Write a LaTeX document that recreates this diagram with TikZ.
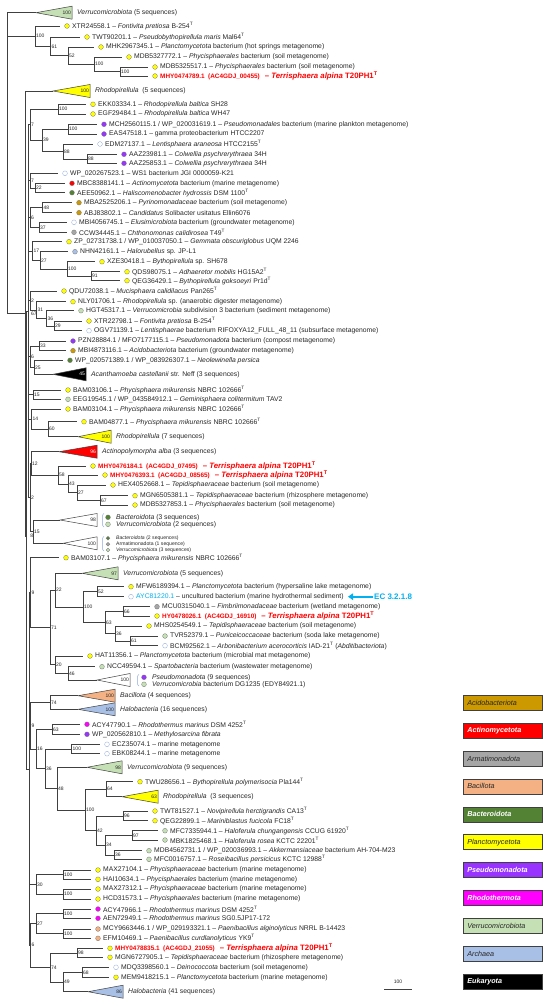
\documentclass[tikz,border=0pt]{standalone}
\usepackage{fontspec}
\setmainfont{Liberation Sans}
\usetikzlibrary{arrows.meta}

\definecolor{brc}{HTML}{404040}
\definecolor{txtc}{HTML}{262626}
\definecolor{plan}{HTML}{FFFF00}
\definecolor{pseu}{HTML}{9933FF}
\definecolor{rhod}{HTML}{FF00FF}
\definecolor{acti}{HTML}{FF0000}
\definecolor{bact}{HTML}{548235}
\definecolor{acid}{HTML}{CC9900}
\definecolor{arma}{HTML}{A6A6A6}
\definecolor{baci}{HTML}{F4B183}
\definecolor{verr}{HTML}{C5E0B4}
\definecolor{arch}{HTML}{A9C0E6}
\definecolor{euk}{HTML}{000000}
\definecolor{openc}{HTML}{8EA9DB}
\definecolor{tared}{HTML}{FF0000}
\definecolor{ecblue}{HTML}{00B0F0}

% Blatt: Elternknoten, Name, x, y, Punktstil, Text
\newcommand{\leaf}[6]{%
  \coordinate (#2) at (#3,#4);
  \draw[br] (#1) |- (#2);
  \node[dot,#5] (#2-dot) at (#3+7,#4) {};
  \node[lab] (#2-txt) at (#3+12,#4) {#6};}
% innerer Knoten: Elternknoten, Name, x, y, Bootstrap
\newcommand{\bnode}[5]{%
  \coordinate (#2) at (#3,#4);
  \draw[br] (#1) |- (#2);
  \node[bs] (#2-bs) at (#2) {#5};}
% zusammengefasste Klade: Elternknoten, Name, x, y, Laenge, Farbe, Bootstrap, Text
\newcommand{\clade}[8]{%
  \coordinate (#2) at (#3,#4);
  \draw[br] (#1) |- (#2);
  \draw[tri,fill=#6] (#2) -- ++(#5,-6.5) -- ++(0,13) -- cycle;
  \node[bsin] (#2-bs) at (#3+#5,#4) {#7};
  \node[lab] (#2-txt) at (#3+#5+5,#4) {#8};}
\newcommand{\supT}{\textsuperscript{T}}
\newcommand{\tal}[1]{\textcolor{tared}{\bfseries{\fontsize{6.4}{7}\selectfont #1}\hspace{5pt}{\fontsize{7.8}{9}\selectfont -- \textit{Terrisphaera alpina} T20PH1\textsuperscript{T}}}}

\begin{document}
\begin{tikzpicture}[x=1pt, y=-1pt,
  br/.style={draw=brc, line width=0.6pt},
  tri/.style={draw=brc, line width=0.5pt},
  brk/.style={draw=openc, line width=0.5pt, rounded corners=1pt},
  dot/.style={circle, draw=brc!70, line width=0.3pt, inner sep=0pt, minimum size=4.8pt},
  sdot/.style={dot, minimum size=3.8pt},
  dpl/.style={fill=plan}, dps/.style={fill=pseu}, drh/.style={fill=rhod},
  dac/.style={fill=acti}, dbc/.style={fill=bact}, dad/.style={fill=acid},
  dar/.style={fill=arma}, dbi/.style={fill=baci}, dve/.style={fill=verr},
  dah/.style={fill=arch}, dop/.style={fill=white, draw=openc},
  lab/.style={anchor=west, inner sep=0pt, text=txtc, font=\fontsize{6.8}{7.5}\selectfont},
  slab/.style={lab, font=\fontsize{5.1}{6}\selectfont},
  bs/.style={anchor=west, inner sep=0.8pt, text=txtc, font=\fontsize{5}{6}\selectfont},
  bsin/.style={bs, anchor=east},
  legbox/.style={anchor=west, draw=brc, line width=0.6pt, minimum width=79pt,
    minimum height=15pt, text width=71pt, inner xsep=4pt, align=left},
  legd/.style={text=txtc, font=\fontsize{7.2}{8}\selectfont\itshape},
  legw/.style={text=white, font=\fontsize{7.2}{8}\selectfont\bfseries\itshape},
  ectxt/.style={anchor=west, inner sep=1pt, text=ecblue, font=\fontsize{8}{9}\selectfont\bfseries},
  ecarr/.style={draw=ecblue, line width=2pt, -{Triangle[length=5pt,width=6.5pt]}}]
\useasboundingbox (0,0) rectangle (550,1006);

% Wurzel und oberste Klade
\coordinate (r) at (7.3,163);
\clade{r}{vA}{36}{12.7}{36}{verr}{100}{\textit{Verrucomicrobiota} (5 sequences)}
\bnode{r}{a1}{35}{36.2}{100}
\leaf{a1}{xtr1}{60}{26}{dpl}{XTR24558.1 -- \textit{Fontivita pretiosa} B-254\supT}
\bnode{a1}{a2}{50.7}{46.3}{61}
\leaf{a2}{twt1}{80}{37}{dpl}{TWT90201.1 -- \textit{Pseudobythopirellula maris} Mal64\supT}
\bnode{a2}{a3}{68}{55.6}{52}
\leaf{a3}{mhk}{94}{47}{dpl}{MHK2967345.1 -- \textit{Planctomycetota} bacterium (hot springs metagenome)}
\bnode{a3}{a4}{94}{64.2}{100}
\leaf{a4}{mdb1}{122}{57}{dpl}{MDB5327772.1 -- \textit{Phycisphaerales} bacterium (soil metagenome)}
\bnode{a4}{a5}{120}{71.5}{100}
\leaf{a5}{mdb2}{148}{67}{dpl}{MDB5325517.1 -- \textit{Phycisphaerales} bacterium (soil metagenome)}
\leaf{a5}{mhy1}{148}{76}{dpl}{\tal{MHY0474789.1\ \ (AC4GDJ\_00455)}}

% Hauptast
\bnode{r}{b}{25}{313.5}{}
\node[bs] (b-lab) at (30,313.5) {67};
\clade{b}{rh5}{53}{91}{37}{plan}{100}{\textit{Rhodopirellula}\ \ (5 sequences)}
\bnode{b}{c}{26.7}{536}{}
\node[bs] (c-lab) at (29.3,536) {8};
\bnode{c}{u}{28}{311}{}
\bnode{c}{lw}{29.3}{769}{}

% oberer Teil
\bnode{u}{e1}{30}{124.7}{7}
\bnode{e1}{e2}{58}{109.2}{100}
\leaf{e2}{ekk}{86}{104.3}{dpl}{EKK03334.1 -- \textit{Rhodopirellula baltica} SH28}
\leaf{e2}{egf}{86}{114}{dpl}{EGF29484.1 -- \textit{Rhodopirellula baltica} WH47}
\bnode{e1}{e3}{42}{140.2}{39}
\bnode{e3}{e4}{68}{129}{100}
\leaf{e4}{mch}{97}{124.3}{dps}{MCH2560115.1 / WP\_020031619.1 -- \textit{Pseudomonadales} bacterium (marine plankton metagenome)}
\leaf{e4}{eas}{97}{134}{dps}{EAS47518.1 -- gamma proteobacterium HTCC2207}
\bnode{e3}{e5}{63}{151.4}{88}
\leaf{e5}{edm}{93}{144}{dop}{EDM27137.1 -- \textit{Lentisphaera araneosa} HTCC2155\supT}
\bnode{e5}{e6}{87}{158.8}{88}
\leaf{e6}{aaz1}{117}{154.3}{dps}{AAZ23981.1 -- \textit{Colwellia psychrerythraea} 34H}
\leaf{e6}{aaz2}{117}{163.3}{dps}{AAZ25853.1 -- \textit{Colwellia psychrerythraea} 34H}

\bnode{u}{f1}{30}{180.7}{7}
\leaf{f1}{ws1}{58}{173.3}{dop}{WP\_020267523.1 -- WS1 bacterium JGI 0000059-K21}
\bnode{f1}{f2}{35}{188}{22}
\leaf{f2}{mbc}{65}{183.3}{dac}{MBC8388141.1 -- \textit{Actinomycetota} bacterium (marine metagenome)}
\leaf{f2}{aee}{65}{192.7}{dbc}{AEE50962.1 -- \textit{Haliscomenobacter hydrossis} DSM 1100\supT}

\bnode{u}{g1}{30}{217.5}{6}
\bnode{g1}{g2}{42.7}{207.7}{48}
\leaf{g2}{mba}{72}{202.7}{dad}{MBA2525206.1 -- \textit{Pyrinomonadaceae} bacterium (soil metagenome)}
\leaf{g2}{abj}{72}{212.7}{dad}{ABJ83802.1 -- \textit{Candidatus} Solibacter usitatus Ellin6076}
\bnode{g1}{g3}{39}{227.3}{37}
\leaf{g3}{mbi1}{67}{222.3}{dop}{MBI4056745.1 -- \textit{Elusimicrobiota} bacterium (groundwater metagenome)}
\leaf{g3}{ccw}{67}{232.3}{dar}{CCW34445.1 -- \textit{Chthonomonas calidirosea} T49\supT}

\bnode{u}{h1}{32.7}{251}{17}
\leaf{h1}{zp}{62}{241.7}{dpl}{ZP\_02731738.1 / WP\_010037050.1 -- \textit{Gemmata obscuriglobus} UQM 2246}
\bnode{h1}{h2}{40}{260.3}{27}
\leaf{h2}{nhn}{68}{251.7}{dah}{NHN42161.1 -- \textit{Halorubellus} sp. JP-L1}
\bnode{h2}{h3}{67}{269}{100}
\leaf{h3}{xze}{95}{261.7}{dpl}{XZE30418.1 -- \textit{Bythopirellula} sp. SH678}
\bnode{h3}{h4}{91}{276.2}{91}
\leaf{h4}{qds}{120}{271.7}{dpl}{QDS98075.1 -- \textit{Adhaeretor mobilis} HG15A2\supT}
\leaf{h4}{qeg1}{120}{280.7}{dpl}{QEG36429.1 -- \textit{Bythopirellula goksoeyri} Pr1d\supT}

\bnode{u}{k1}{30}{300.5}{2}
\leaf{k1}{qdu}{57}{291}{dpl}{QDU72038.1 -- \textit{Mucisphaera calidilacus} Pan265\supT}
\bnode{k1}{k2}{36.7}{310}{31}
\leaf{k2}{nly}{66}{301.7}{dpl}{NLY01706.1 -- \textit{Rhodopirellula} sp. (anaerobic digester metagenome)}
\bnode{k2}{k3}{46.7}{318.3}{36}
\leaf{k3}{hgt}{74}{310.7}{dve}{HGT45317.1 -- \textit{Verrucomicrobia} subdivision 3 bacterium (sediment metagenome)}
\bnode{k3}{k4}{54}{325.8}{29}
\leaf{k4}{xtr2}{82}{321}{dpl}{XTR22798.1 -- \textit{Fontivita pretiosa} B-254\supT}
\leaf{k4}{ogv}{82}{330.7}{dop}{OGV71139.1 -- \textit{Lentisphaerae} bacterium RIFOXYA12\_FULL\_48\_11 (subsurface metagenome)}

\bnode{u}{m1}{30}{356.5}{6}
\bnode{m1}{m2}{39}{345.8}{33}
\leaf{m2}{pzn}{66}{341}{dps}{PZN28884.1 / MFO7177115.1 -- \textit{Pseudomonadota} bacterium (compost metagenome)}
\leaf{m2}{mbi2}{66}{350.7}{dad}{MBI4873116.1 -- \textit{Acidobacteriota} bacterium (groundwater metagenome)}
\bnode{m1}{m3}{34}{367.3}{25}
\leaf{m3}{wpn}{63}{360.3}{dbc}{WP\_020571389.1 / WP\_083926307.1 -- \textit{Neolewinella persica}}
\clade{m3}{acan}{53}{374.3}{33}{euk}{\color{white}45}{\textit{Acanthamoeba castellanii} str. Neff (3 sequences)}

\bnode{u}{p1}{33}{394.7}{15}
\leaf{p1}{bam1}{61}{390}{dpl}{BAM03106.1 -- \textit{Phycisphaera mikurensis} NBRC 102666\supT}
\leaf{p1}{eeg}{61}{399.3}{dve}{EEG19545.1 / WP\_043584912.1 -- \textit{Geminisphaera colitermitum} TAV2}

\bnode{u}{q1}{31.7}{419}{14}
\leaf{q1}{bam2}{61}{409}{dpl}{BAM03104.1 -- \textit{Phycisphaera mikurensis} NBRC 102666\supT}
\bnode{q1}{q2}{48}{429.2}{60}
\leaf{q2}{bam3}{77}{421.7}{dpl}{BAM04877.1 -- \textit{Phycisphaera mikurensis} NBRC 102666\supT}
\clade{q2}{rh7}{78}{436.7}{33}{plan}{100}{\textit{Rhodopirellula} (7 sequences)}

\bnode{u}{s1}{30}{497.5}{2}
\bnode{s1}{s2}{31}{463.3}{12}
\clade{s2}{actp}{59}{451.7}{38}{acti}{\color{white}96}{\textit{Actinopolymorpha alba} (3 sequences)}
\bnode{s2}{s3}{58}{474.9}{58}
\leaf{s3}{mhy2}{86}{466}{dpl}{\tal{MHY0476184.1\ \ (AC4GDJ\_07495)}}
\bnode{s3}{s4}{68}{483.8}{43}
\leaf{s4}{mhy3}{98}{475}{dpl}{\tal{MHY0476393.1\ \ (AC4GDJ\_08565)}}
\bnode{s4}{s5}{77}{492.7}{27}
\leaf{s5}{hex}{106}{485}{dpl}{HEX4052668.1 -- \textit{Tepidisphaeraceae} bacterium (soil metagenome)}
\bnode{s5}{s6}{100}{500.3}{67}
\leaf{s6}{mgn1}{128}{495.7}{dpl}{MGN6505381.1 -- \textit{Tepidisphaeraceae} bacterium (rhizosphere metagenome)}
\leaf{s6}{mdb3}{128}{505}{dpl}{MDB5327853.1 -- \textit{Phycisphaerales} bacterium (soil metagenome)}
\bnode{s1}{t1}{33}{531.7}{15}
\clade{t1}{wt1}{60}{520}{37}{white}{98}{}
\clade{t1}{wt2}{63}{543.3}{34}{white}{100}{}

% gemischte Kladen
\draw[brk] (104,513.5) -- (102.5,514.5) -- (102.5,526) -- (104,527);
\node[dot,dbc] (wt1-d1) at (108,517.3) {};
\node[dot,dve] (wt1-d2) at (108,524.3) {};
\node[lab] (wt1-t1) at (116,517.3) {\textit{Bacteroidota} (3 sequences)};
\node[lab] (wt1-t2) at (116,524.3) {\textit{Verrucomicrobiota} (2 sequences)};
\draw[brk] (104,536.5) -- (102.5,537.5) -- (102.5,550) -- (104,551);
\node[sdot,dbc] (wt2-d1) at (108,538.3) {};
\node[sdot,dar] (wt2-d2) at (108,544.3) {};
\node[sdot,dve] (wt2-d3) at (108,550) {};
\node[slab] (wt2-t1) at (116,538.3) {\textit{Bacteroidota} (2 sequences)};
\node[slab] (wt2-t2) at (116,544.3) {Armatimonadota (1 sequence)};
\node[slab] (wt2-t3) at (116,550) {\textit{Verrucomicrobiota} (3 sequences)};

% unterer Teil
\bnode{lw}{v1}{30.5}{592.5}{9}
\leaf{v1}{bam4}{59}{557.7}{dpl}{BAM03107.1 -- \textit{Phycisphaera mikurensis} NBRC 102666\supT}
\bnode{v1}{v2}{50}{627.4}{71}
\bnode{v2}{v3}{55}{590.2}{22}
\clade{v3}{ver5}{82}{573.3}{36}{verr}{97}{\textit{Verrucomicrobiota} (5 sequences)}
\bnode{v3}{v4}{83}{607}{100}
\bnode{v4}{v5}{97}{591.7}{52}
\leaf{v5}{mfw}{124}{586.7}{dpl}{MFW6189394.1 -- \textit{Planctomycetota} bacterium (hypersaline lake metagenome)}
\leaf{v5}{ayc}{124}{596.7}{dop}{\textcolor{ecblue}{AYC81220.1} -- uncultured bacterium (marine hydrothermal sediment)}
\bnode{v4}{v6}{105}{622.4}{63}
\bnode{v6}{v7}{123}{611.3}{66}
\leaf{v7}{mcu}{150}{606.7}{dar}{MCU0315040.1 -- \textit{Fimbriimonadaceae} bacterium (wetland metagenome)}
\leaf{v7}{mhy4}{150}{616}{dpl}{\tal{HY0478026.1\ \ (AC4GDJ\_16910)}}
\bnode{v6}{v8}{115}{633.4}{36}
\leaf{v8}{mhs}{142}{626}{dpl}{MHS0254549.1 -- \textit{Tepidisphaeraceae} bacterium (soil metagenome)}
\bnode{v8}{v9}{130}{640.8}{61}
\leaf{v9}{tvr}{158}{636}{dve}{TVR52379.1 -- \textit{Puniceicoccaceae} bacterium (soda lake metagenome)}
\leaf{v9}{bcm}{158}{645.7}{dop}{BCM92562.1 -- \textit{Arbonibacterium acerocorticis} IAD-21\supT{} (\textit{Abditibacteriota})}
\bnode{v2}{w1}{55}{664.7}{20}
\leaf{w1}{hat}{83}{656}{dpl}{HAT11356.1 -- \textit{Planctomycetota} bacterium (microbial mat metagenome)}
\bnode{w1}{w2}{68}{673.3}{46}
\leaf{w2}{ncc}{95}{666.7}{dve}{NCC49594.1 -- \textit{Spartobacteria} bacterium (wastewater metagenome)}
\clade{w2}{pst}{97}{680}{33}{white}{100}{}
\draw[brk] (139,674.5) -- (137.5,675.5) -- (137.5,685) -- (139,686);
\node[dot,dps] (pst-d1) at (144,677.3) {};
\node[dot,dve] (pst-d2) at (144,684.3) {};
\node[lab] (pst-t1) at (152,677.3) {\textit{Pseudomonadota} (9 sequences)};
\node[lab] (pst-t2) at (152,684.3) {\textit{Verrucomicrobia} bacterium DG1235 (EDY84921.1)};

% EC-Pfeil
\node[ectxt] (ec) at (373,596.7) {EC 3.2.1.8};
\coordinate (ec-tip) at (348,596.7);
\draw[ecarr] (ec.west) -- (ec-tip);

\bnode{lw}{x1}{30.7}{725.75}{9}
\bnode{x1}{x2}{50}{702.5}{74}
\clade{x2}{bacl}{78}{695.7}{37}{baci}{100}{\textit{Bacillota} (4 sequences)}
\clade{x2}{hal16}{78}{709.3}{37}{arch}{100}{\textit{Halobacteria} (16 sequences)}
\bnode{x1}{x3}{36}{749}{16}
\bnode{x3}{x4}{52}{729.3}{63}
\leaf{x4}{acy1}{80}{724.3}{drh}{ACY47790.1 -- \textit{Rhodothermus marinus} DSM 4252\supT}
\leaf{x4}{wpm}{80}{734.3}{dps}{WP\_020562810.1 -- \textit{Methylosarcina fibrata}}
\bnode{x3}{x5}{45}{768.7}{36}
\bnode{x5}{x6}{71.7}{749}{100}
\leaf{x6}{ecz}{100}{744.3}{dop}{ECZ35074.1 -- marine metagenome}
\leaf{x6}{ebk}{100}{753.7}{dop}{EBK08244.1 -- marine metagenome}
\bnode{x5}{x7}{57}{788.7}{48}
\clade{x7}{ver9}{87}{767.3}{35}{verr}{98}{\textit{Verrucomicrobiota} (9 sequences)}
\bnode{x7}{x8}{85}{810}{100}
\bnode{x8}{x9}{106}{789.2}{64}
\leaf{x9}{twu}{133}{781.7}{dpl}{TWU28656.1 -- \textit{Bythopirellula polymerisocia} Pla144\supT}
\clade{x9}{rh3}{122}{796.7}{36}{plan}{63}{\textit{Rhodopirellula}\ \ (3 sequences)}
\bnode{x8}{y1}{96}{830.5}{42}
\bnode{y1}{y2}{123}{815.8}{96}
\leaf{y2}{twt2}{148}{811}{dpl}{TWT81527.1 -- \textit{Novipirellula herctigrandis} CA13\supT}
\leaf{y2}{qeg2}{148}{820.7}{dpl}{QEG22899.1 -- \textit{Mariniblastus fucicola} FC18\supT}
\bnode{y1}{y3}{105}{845}{34}
\bnode{y3}{y4}{132}{835.3}{97}
\leaf{y4}{mfc1}{158}{830.7}{dve}{MFC7335944.1 -- \textit{Haloferula chungangensis} CCUG 61920\supT}
\leaf{y4}{mbk}{158}{840}{dve}{MBK1825468.1 -- \textit{Haloferula rosea} KCTC 22201\supT}
\bnode{y3}{y5}{114}{855}{36}
\leaf{y5}{mdb4}{142}{850.7}{dve}{MDB4562731.1 / WP\_020036993.1 -- \textit{Akkermansiaceae} bacterium AH-704-M23}
\leaf{y5}{mfc2}{142}{859.3}{dve}{MFC0016757.1 -- \textit{Roseibacillus persicicus} KCTC 12988\supT}

\bnode{lw}{z1}{36}{884.3}{30}
\bnode{z1}{z2}{63}{874.7}{100}
\leaf{z2}{max1}{91}{870}{dpl}{MAX27104.1 -- \textit{Phycisphaeraceae} bacterium (marine metagenome)}
\leaf{z2}{hai}{91}{879.3}{dpl}{HAI10634.1 -- \textit{Phycisphaerales} bacterium (marine metagenome)}
\bnode{z1}{z3}{63}{894}{100}
\leaf{z3}{max2}{91}{889}{dpl}{MAX27312.1 -- \textit{Phycisphaeraceae} bacterium (marine metagenome)}
\leaf{z3}{hcd}{91}{899}{dpl}{HCD31573.1 -- \textit{Phycisphaerales} bacterium (marine metagenome)}

\bnode{lw}{o1}{30.7}{945.2}{6}
\bnode{o1}{o2}{36}{923.7}{27}
\bnode{o2}{o3}{63}{913.7}{100}
\leaf{o3}{acy2}{91}{909}{drh}{ACY47966.1 -- \textit{Rhodothermus marinus} DSM 4252\supT}
\leaf{o3}{aen}{91}{918.3}{drh}{AEN72949.1 -- \textit{Rhodothermus marinus} SG0.5JP17-172}
\bnode{o2}{o4}{63}{933.7}{100}
\leaf{o4}{mcy}{91}{929}{dbi}{MCY9663446.1 / WP\_029193321.1 -- \textit{Paenibacillus alginolyticus} NRRL B-14423}
\leaf{o4}{efm}{91}{938.3}{dbi}{EFM10469.1 -- \textit{Paenibacillus curdlanolyticus} YK9\supT}
\bnode{o1}{o5}{50}{967.4}{74}
\bnode{o5}{o6}{77}{952.8}{98}
\leaf{o6}{mhy5}{103}{948.3}{dpl}{\tal{MHY0478835.1\ \ (AC4GDJ\_21055)}}
\leaf{o6}{mgn2}{103}{957.3}{dpl}{MGN6727905.1 -- \textit{Tepidisphaeraceae} bacterium (rhizosphere metagenome)}
\bnode{o5}{o7}{63}{982}{49}
\bnode{o7}{o8}{82}{972.3}{68}
\leaf{o8}{mdq}{109}{967.3}{dop}{MDQ3398560.1 -- \textit{Deinococcota} bacterium (soil metagenome)}
\leaf{o8}{mem}{109}{977.3}{dpl}{MEM9418215.1 -- \textit{Planctomycetota} bacterium (marine metagenome)}
\clade{o7}{hal41}{88}{991.7}{35}{arch}{86}{\textit{Halobacteria} (41 sequences)}

% Massstab
\coordinate (sb-l) at (384,989);
\coordinate (sb-r) at (412,989);
\draw[br] (sb-l) -- (sb-r);
\node[bs, anchor=center] (sb-lab) at (398,982) {100};

% Legende
\foreach \nm/\fc/\st [count=\i from 0] in {Acidobacteriota/acid/legd, Actinomycetota/acti/legw,
  Armatimonadota/arma/legd, Bacillota/baci/legd, Bacteroidota/bact/legw,
  Planctomycetota/plan/legd, Pseudomonadota/pseu/legw, Rhodothermota/rhod/legw,
  Verrucomicrobiota/verr/legd, Archaea/arch/legd, Eukaryota/euk/legw}
  \node[legbox, \st, fill=\fc] (leg-\i) at (463,702.7+27.9*\i) {\nm};
\end{tikzpicture}
\end{document}
